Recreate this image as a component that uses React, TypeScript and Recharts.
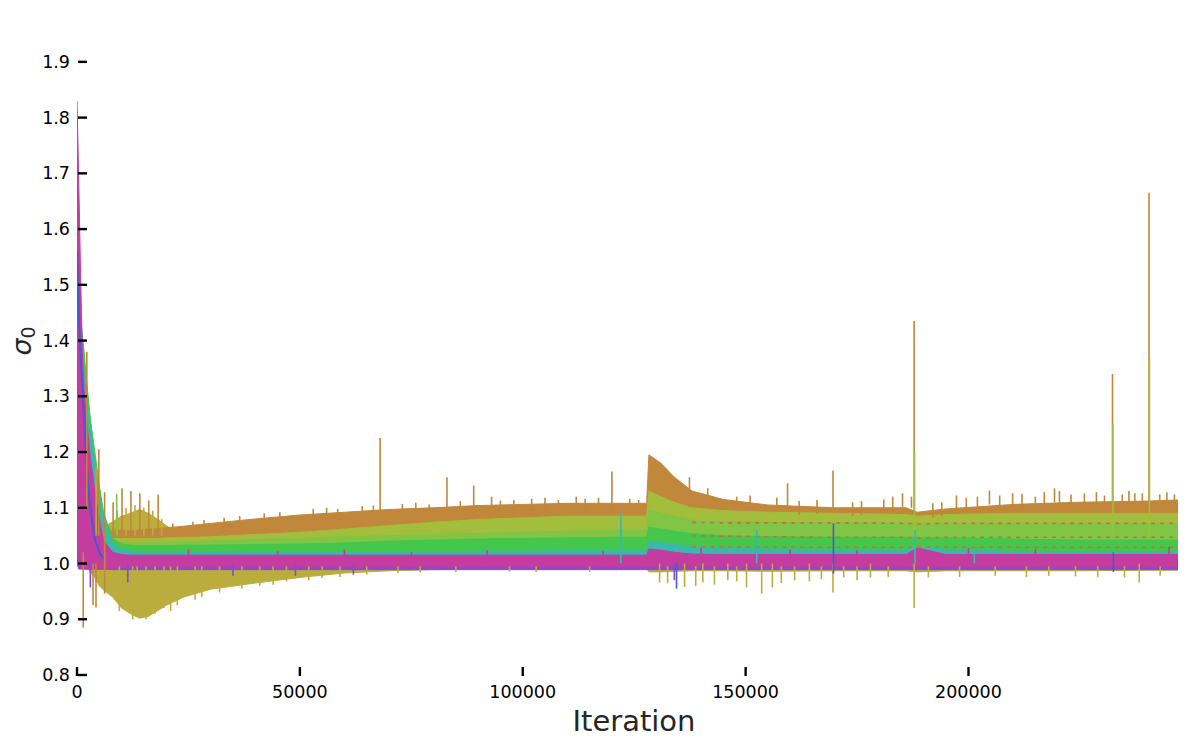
import {
  Area,
  ComposedChart,
  Line,
  ReferenceLine,
  XAxis,
  YAxis,
} from 'recharts';

const ITERATIONS = [
  0, 400, 800, 1200, 1600, 2000, 2500, 3000, 3500, 4000, 5000, 6000,
  8000, 10000, 12000, 14000, 16000, 18000, 20000, 24000,
  30000, 40000, 50000, 60000, 70000, 80000, 90000, 100000, 110000, 120000,
  127800, 128300, 131000, 134000, 138000, 145000, 155000, 170000,
  186000, 188500, 195000, 210000, 225000, 240000, 247000,
];

// olive run: wide noisy band, its lower edge is visible under everything else
const OLIVE_LO = [
  1.0, 1.0, 1.0, 1.0, 1.0, 1.0, 0.99, 0.985, 0.98, 0.975, 0.96, 0.952,
  0.94, 0.92, 0.91, 0.902, 0.905, 0.915, 0.925, 0.94,
  0.954, 0.965, 0.975, 0.983, 0.987, 0.989, 0.99, 0.99, 0.991, 0.991,
  0.991, 0.985, 0.985, 0.986, 0.987, 0.987, 0.986, 0.987,
  0.987, 0.985, 0.987, 0.987, 0.987, 0.988, 0.988,
];
const OLIVE_HI = [
  1.3, 1.28, 1.26, 1.24, 1.22, 1.2, 1.17, 1.15, 1.12, 1.1, 1.07, 1.065,
  1.075, 1.085, 1.09, 1.097, 1.09, 1.08, 1.068, 1.05,
  1.04, 1.035, 1.035, 1.035, 1.035, 1.035, 1.035, 1.035, 1.035, 1.035,
  1.035, 1.04, 1.04, 1.04, 1.035, 1.035, 1.035, 1.035,
  1.035, 1.035, 1.035, 1.035, 1.035, 1.035, 1.035,
];

// upper edges of the stacked runs (their lower edges sit under the next run)
const ORANGE_HI = [
  1.5, 1.45, 1.4, 1.35, 1.3, 1.26, 1.22, 1.18, 1.15, 1.12, 1.08, 1.06,
  1.058, 1.06, 1.058, 1.06, 1.062, 1.062, 1.064, 1.067,
  1.072, 1.08, 1.087, 1.092, 1.097, 1.1, 1.104, 1.106, 1.108, 1.108,
  1.108, 1.195, 1.18, 1.155, 1.13, 1.115, 1.105, 1.1,
  1.1, 1.092, 1.098, 1.106, 1.11, 1.112, 1.114,
];
const YELLOWGREEN_HI = [
  1.55, 1.5, 1.45, 1.4, 1.36, 1.32, 1.27, 1.22, 1.18, 1.15, 1.1, 1.06,
  1.045, 1.045, 1.045, 1.045, 1.045, 1.045, 1.046, 1.047,
  1.048, 1.052, 1.056, 1.062, 1.068, 1.074, 1.079, 1.082, 1.085, 1.085,
  1.085, 1.13, 1.12, 1.11, 1.1, 1.095, 1.092, 1.09,
  1.088, 1.085, 1.088, 1.09, 1.09, 1.09, 1.09,
];
const LIGHTGREEN_HI = [
  1.5, 1.46, 1.42, 1.38, 1.34, 1.3, 1.26, 1.23, 1.2, 1.17, 1.12, 1.07,
  1.04, 1.038, 1.036, 1.036, 1.037, 1.037, 1.038, 1.039,
  1.04, 1.043, 1.045, 1.048, 1.05, 1.052, 1.054, 1.056, 1.058, 1.06,
  1.06, 1.095, 1.09, 1.085, 1.078, 1.076, 1.074, 1.073,
  1.073, 1.07, 1.072, 1.072, 1.072, 1.072, 1.072,
];
const GREEN_HI = [
  1.5, 1.47, 1.44, 1.41, 1.38, 1.34, 1.3, 1.26, 1.23, 1.2, 1.14, 1.09,
  1.045, 1.035, 1.033, 1.032, 1.032, 1.032, 1.032, 1.033,
  1.033, 1.034, 1.035, 1.037, 1.04, 1.042, 1.044, 1.045, 1.046, 1.047,
  1.047, 1.065, 1.062, 1.058, 1.054, 1.05, 1.048, 1.047,
  1.047, 1.046, 1.046, 1.044, 1.042, 1.042, 1.042,
];
const TEAL_HI = [
  1.45, 1.42, 1.4, 1.37, 1.34, 1.31, 1.27, 1.24, 1.21, 1.18, 1.12, 1.08,
  1.035, 1.026, 1.023, 1.021, 1.02, 1.02, 1.02, 1.02,
  1.02, 1.02, 1.02, 1.02, 1.021, 1.021, 1.022, 1.022, 1.023, 1.023,
  1.023, 1.04, 1.038, 1.034, 1.03, 1.028, 1.026, 1.025,
  1.025, 1.03, 1.025, 1.022, 1.02, 1.02, 1.02,
];

const PURPLE_LO = [
  1.0, 0.99, 0.99, 0.99, 0.99, 0.99, 0.99, 0.99, 0.99, 0.99, 0.99, 0.99,
  0.989, 0.989, 0.989, 0.989, 0.989, 0.989, 0.989, 0.989,
  0.989, 0.989, 0.989, 0.989, 0.989, 0.989, 0.989, 0.989, 0.989, 0.989,
  0.989, 0.989, 0.989, 0.989, 0.989, 0.989, 0.989, 0.989,
  0.989, 0.989, 0.989, 0.989, 0.989, 0.989, 0.989,
];
const PURPLE_HI = [
  1.3, 1.2, 1.15, 1.1, 1.06, 1.04, 1.02, 1.01, 1.005, 1.005, 1.005, 1.005,
  1.005, 1.005, 1.005, 1.005, 1.005, 1.005, 1.005, 1.005,
  1.005, 1.005, 1.005, 1.005, 1.005, 1.005, 1.005, 1.005, 1.005, 1.005,
  1.005, 1.005, 1.005, 1.005, 1.005, 1.005, 1.005, 1.005,
  1.005, 1.005, 1.005, 1.005, 1.005, 1.005, 1.005,
];

const MAGENTA_LO = [
  1.05, 1.0, 0.995, 0.99, 0.99, 0.99, 0.99, 0.99, 0.99, 0.99, 0.99, 0.99,
  0.992, 0.993, 0.994, 0.994, 0.994, 0.994, 0.994, 0.994,
  0.994, 0.994, 0.994, 0.994, 0.994, 0.994, 0.994, 0.994, 0.994, 0.994,
  0.994, 0.995, 0.995, 0.995, 0.994, 0.994, 0.994, 0.994,
  0.994, 0.995, 0.994, 0.994, 0.994, 0.994, 0.994,
];
const MAGENTA_HI = [
  1.83, 1.68, 1.52, 1.38, 1.31, 1.27, 1.23, 1.19, 1.16, 1.13, 1.08, 1.04,
  1.02, 1.016, 1.015, 1.015, 1.015, 1.015, 1.015, 1.015,
  1.015, 1.015, 1.015, 1.015, 1.015, 1.015, 1.015, 1.015, 1.015, 1.015,
  1.015, 1.026, 1.024, 1.02, 1.017, 1.016, 1.016, 1.016,
  1.016, 1.028, 1.016, 1.016, 1.016, 1.016, 1.016,
];

// the blue run is only visible during the first few thousand iterations
const BLUE_EARLY = [
  1.56, 1.44, 1.38, 1.32, 1.26, 1.2, 1.14, 1.1, 1.07, 1.045, 1.02, 1.008,
  null, null, null, null, null, null, null, null,
  null, null, null, null, null, null, null, null, null, null,
  null, null, null, null, null, null, null, null,
  null, null, null, null, null, null, null,
];

// reddish runs peeking through the green bands late in training
const RED_A = [
  ...Array(34).fill(null),
  1.074, 1.073, 1.073, 1.073, 1.072, 1.071, 1.072, 1.072, 1.072, 1.072, 1.072,
];
const RED_B = [
  ...Array(34).fill(null),
  1.05, 1.049, 1.048, 1.047, 1.047, 1.046, 1.047, 1.047, 1.047, 1.047, 1.047,
];
const RED_C = [
  ...Array(34).fill(null),
  1.03, 1.03, 1.029, 1.029, 1.029, 1.03, 1.029, 1.029, 1.029, 1.029, 1.029,
];

// big single-step excursions: [iteration, from, to, run]
const SPIKES: [number, number, number, string][] = [
  [1400, 0.885, 1.02, 'orange'],
  [2200, 1.1, 1.38, 'orange'],
  [3000, 0.957, 1.0, 'purple'],
  [3600, 0.925, 1.0, 'orange'],
  [4260, 0.921, 1.0, 'orange'],
  [4300, 1.05, 1.17, 'olive'],
  [4900, 1.05, 1.205, 'orange'],
  [6200, 0.946, 1.128, 'orange'],
  [8100, 1.05, 1.11, 'orange'],
  [8900, 1.05, 1.125, 'lightgreen'],
  [10100, 1.05, 1.135, 'orange'],
  [11400, 0.966, 1.0, 'purple'],
  [12100, 1.05, 1.13, 'orange'],
  [14100, 1.05, 1.126, 'orange'],
  [16100, 1.05, 1.113, 'orange'],
  [18200, 1.05, 1.124, 'orange'],
  [35000, 0.978, 1.0, 'purple'],
  [49000, 0.978, 1.0, 'purple'],
  [62000, 0.98, 1.0, 'purple'],
  [68000, 1.09, 1.225, 'orange'],
  [83000, 1.09, 1.155, 'orange'],
  [89000, 1.09, 1.14, 'orange'],
  [93000, 1.09, 1.12, 'orange'],
  [120000, 1.09, 1.165, 'orange'],
  [122000, 1.0, 1.09, 'teal'],
  [130700, 0.966, 1.0, 'olive'],
  [134000, 0.97, 1.0, 'purple'],
  [134500, 0.955, 1.0, 'blue'],
  [136300, 0.958, 1.0, 'olive'],
  [137400, 1.1, 1.155, 'orange'],
  [140400, 0.966, 1.0, 'olive'],
  [141500, 1.1, 1.135, 'orange'],
  [146000, 0.97, 1.0, 'olive'],
  [150200, 0.957, 1.0, 'olive'],
  [151000, 1.1, 1.122, 'orange'],
  [152500, 1.0, 1.06, 'teal'],
  [153600, 0.946, 1.0, 'olive'],
  [156000, 0.957, 1.0, 'olive'],
  [159400, 1.1, 1.144, 'orange'],
  [164300, 0.968, 1.0, 'olive'],
  [169600, 1.1, 1.167, 'orange'],
  [169600, 0.948, 1.0, 'olive'],
  [169700, 0.982, 1.072, 'blue'],
  [178000, 0.975, 1.0, 'olive'],
  [185200, 1.1, 1.126, 'orange'],
  [187200, 1.1, 1.12, 'orange'],
  [187800, 0.92, 1.0, 'olive'],
  [187800, 1.09, 1.435, 'orange'],
  [187900, 1.05, 1.2, 'yellowgreen'],
  [188000, 1.0, 1.06, 'teal'],
  [201300, 1.0, 1.027, 'teal'],
  [232300, 1.09, 1.34, 'orange'],
  [232400, 1.05, 1.25, 'yellowgreen'],
  [232500, 0.985, 1.02, 'blue'],
  [238300, 0.966, 1.0, 'olive'],
  [240500, 1.09, 1.665, 'orange'],
  [240600, 1.05, 1.37, 'yellowgreen'],
];

// small ragged peaks on the top of the orange band: [iteration, peak]
const ORANGE_RAGGED: [number, number][] = [
  [21500, 1.072], [26000, 1.075], [28500, 1.078], [33000, 1.082], [36500, 1.085],
  [42000, 1.09], [45500, 1.092], [53000, 1.098], [56000, 1.1], [58500, 1.098],
  [64000, 1.103], [66500, 1.104], [73000, 1.107], [76000, 1.109], [79000, 1.106],
  [86000, 1.112], [95000, 1.113], [98000, 1.114], [102000, 1.116], [105000, 1.118],
  [108000, 1.114], [112000, 1.12], [114000, 1.116], [117000, 1.118], [124000, 1.116],
  [126000, 1.114], [148000, 1.12], [157000, 1.118], [162000, 1.112], [166000, 1.114],
  [174000, 1.11], [176000, 1.112], [181000, 1.115], [183000, 1.12], [192000, 1.108],
  [194000, 1.11], [197300, 1.122], [199500, 1.118], [202000, 1.12], [204700, 1.131],
  [207000, 1.122], [209900, 1.126], [212000, 1.125], [215000, 1.12], [217000, 1.128],
  [219300, 1.135], [220400, 1.13], [223000, 1.124], [226000, 1.126], [228700, 1.128],
  [230500, 1.122], [234500, 1.124], [236000, 1.13], [237300, 1.126], [239000, 1.126],
  [242900, 1.124], [244500, 1.128], [246200, 1.124],
];

// small dips at the bottom of the olive band: [iteration, low]
const OLIVE_RAGGED: [number, number][] = [
  [9500, 0.915], [12500, 0.9], [13500, 0.905], [15500, 0.9], [17500, 0.91],
  [19500, 0.92], [21000, 0.915], [22500, 0.925], [26500, 0.935], [28000, 0.94],
  [32000, 0.948], [37000, 0.955], [41000, 0.96], [44000, 0.962], [47000, 0.968],
  [52000, 0.97], [55000, 0.974], [59000, 0.976], [65000, 0.98], [72000, 0.983],
  [77000, 0.984], [85000, 0.985], [97000, 0.986], [103000, 0.985], [115000, 0.985],
  [132500, 0.965], [138800, 0.96], [143000, 0.962], [148000, 0.968], [158000, 0.965],
  [161000, 0.97], [167000, 0.972], [172000, 0.975], [175000, 0.97], [182000, 0.976],
  [191000, 0.975], [198000, 0.976], [206000, 0.978], [213000, 0.976], [218000, 0.978],
  [224000, 0.977], [229000, 0.976], [235000, 0.975], [243000, 0.978],
];

// short peaks above the olive top in the early wide phase: [iteration, peak]
const OLIVE_EARLY_PEAKS: [number, number][] = [
  [9000, 1.095], [11000, 1.1], [13000, 1.105], [15000, 1.1], [17000, 1.095], [19000, 1.08],
];

// short peaks above the magenta band: [iteration, peak]
const MAGENTA_RAGGED: [number, number][] = [
  [25000, 1.025], [45000, 1.022], [60000, 1.025], [75000, 1.02], [92000, 1.024],
  [118000, 1.022], [140000, 1.028], [160000, 1.025], [175000, 1.024], [200000, 1.028],
  [215000, 1.026], [245000, 1.03],
];

const X_TICKS = [0, 50000, 100000, 150000, 200000];
const Y_TICKS = [0.8, 0.9, 1.0, 1.1, 1.2, 1.3, 1.4, 1.5, 1.6, 1.7, 1.8, 1.9];

const COLORS: Record<string, string> = {
  olive: '#bbad3d',
  orange: '#c1873a',
  yellowgreen: '#a3bd3c',
  lightgreen: '#80c545',
  green: '#45c64d',
  teal: '#3ab9aa',
  blue: '#4658d2',
  purple: '#8b48d2',
  magenta: '#c43c9f',
  red: '#c8703a',
};

// stacked runs with only an upper edge, filled down to 1.0
const STACKED = [
  { key: 'orange', hi: ORANGE_HI },
  { key: 'yellowgreen', hi: YELLOWGREEN_HI },
  { key: 'lightgreen', hi: LIGHTGREEN_HI },
  { key: 'green', hi: GREEN_HI },
  { key: 'teal', hi: TEAL_HI },
];

const rows = ITERATIONS.map((it, i) => {
  const row: Record<string, unknown> = {
    it,
    olive: [OLIVE_LO[i], OLIVE_HI[i]],
    purple: [PURPLE_LO[i], PURPLE_HI[i]],
    magenta: [MAGENTA_LO[i], MAGENTA_HI[i]],
    blue: BLUE_EARLY[i],
    redA: RED_A[i],
    redB: RED_B[i],
    redC: RED_C[i],
  };
  STACKED.forEach((s) => {
    row[s.key] = [1.0, s.hi[i]];
  });
  return row;
});

const allSpikes: [number, number, number, string][] = [
  ...OLIVE_EARLY_PEAKS.map(([it, v]) => [it, 1.05, v, 'olive'] as [number, number, number, string]),
  ...ORANGE_RAGGED.map(([it, v]) => [it, v - 0.025, v, 'orange'] as [number, number, number, string]),
  ...OLIVE_RAGGED.map(([it, v]) => [it, v, 0.995, 'olive'] as [number, number, number, string]),
  ...MAGENTA_RAGGED.map(([it, v]) => [it, 1.0, v, 'magenta'] as [number, number, number, string]),
  ...SPIKES,
];

const FONT = '"DejaVu Sans", sans-serif';

function YTick({ x, y, payload }: any) {
  return (
    <g>
      <line x1={x + 1} x2={x + 10} y1={y} y2={y} stroke="#000" strokeWidth={2.4} />
      <text x={x - 7} y={y + 6} textAnchor="end" fontSize={17.5} fontFamily={FONT} fill="#000">
        {Number(payload.value).toFixed(1)}
      </text>
    </g>
  );
}

function XTick({ x, y, payload }: any) {
  return (
    <g>
      <line x1={x} x2={x} y1={y - 8} y2={y + 1} stroke="#000" strokeWidth={2.4} />
      <text x={x} y={y + 23} textAnchor="middle" fontSize={17.5} fontFamily={FONT} fill="#000">
        {payload.value}
      </text>
    </g>
  );
}

function band(key: string) {
  return (
    <Area
      key={key}
      type="linear"
      dataKey={key}
      stroke={COLORS[key]}
      strokeWidth={1}
      fill={COLORS[key]}
      fillOpacity={1}
      dot={false}
      activeDot={false}
      isAnimationActive={false}
    />
  );
}

export default function App() {
  return (
    <div style={{ position: 'absolute', left: 0, top: 0, width: 1200, height: 742, background: '#fff' }}>
      <ComposedChart
        width={1200}
        height={742}
        data={rows}
        margin={{ top: 34, right: 22, bottom: 37, left: 17 }}
      >
        <XAxis
          dataKey="it"
          type="number"
          domain={[0, 247000]}
          ticks={X_TICKS}
          interval={0}
          allowDataOverflow
          axisLine={false}
          tickLine={false}
          tickSize={0}
          tickMargin={0}
          height={30}
          tick={(p: any) => <XTick {...p} />}
        />
        <YAxis
          type="number"
          domain={[0.8, 1.95]}
          ticks={Y_TICKS}
          interval={0}
          allowDataOverflow
          axisLine={false}
          tickLine={false}
          tickSize={0}
          tickMargin={0}
          width={60}
          tick={(p: any) => <YTick {...p} />}
        />
        {band('olive')}
        {STACKED.map((s) => band(s.key))}
        {band('purple')}
        {band('magenta')}
        <Line type="linear" dataKey="blue" stroke={COLORS.blue} strokeWidth={2} dot={false} activeDot={false} isAnimationActive={false} />
        {['redA', 'redB', 'redC'].map((k) => (
          <Line
            key={k}
            type="linear"
            dataKey={k}
            stroke={COLORS.red}
            strokeWidth={1.6}
            strokeDasharray="4 5"
            dot={false}
            activeDot={false}
            isAnimationActive={false}
          />
        ))}
        {allSpikes.map(([it, from, to, run], i) => (
          <ReferenceLine
            key={i}
            segment={[{ x: it, y: from }, { x: it, y: to }]}
            stroke={COLORS[run]}
            strokeWidth={1.6}
          />
        ))}
      </ComposedChart>
      <svg
        width={1200}
        height={742}
        style={{ position: 'absolute', left: 0, top: 0, pointerEvents: 'none' }}
      >
        <text x={634} y={731} textAnchor="middle" fontSize={29} fontFamily={FONT} fill="#262626">
          Iteration
        </text>
        <text
          x={31}
          y={341}
          transform="rotate(-90 31 341)"
          textAnchor="middle"
          fontSize={27}
          fontFamily={FONT}
          fill="#262626"
        >
          <tspan fontStyle="italic">σ</tspan>
          <tspan fontSize={19} dy={4}>0</tspan>
        </text>
      </svg>
    </div>
  );
}
